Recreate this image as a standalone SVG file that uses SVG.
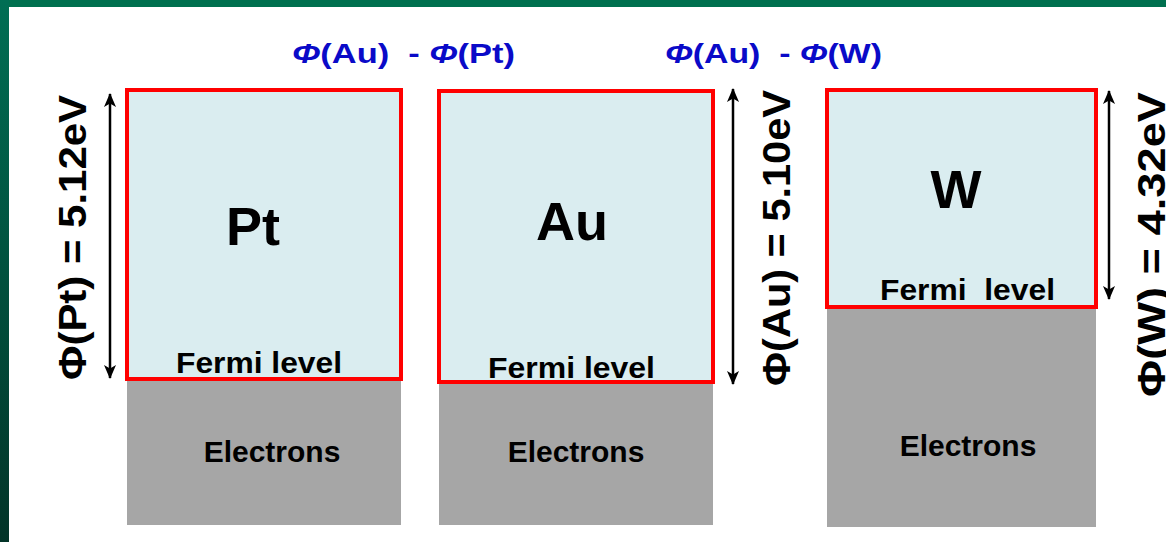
<svg xmlns="http://www.w3.org/2000/svg" width="1166" height="542" viewBox="0 0 1166 542">
<defs>
<linearGradient id="lb" x1="0" y1="0" x2="0" y2="1">
<stop offset="0" stop-color="#006e54"/>
<stop offset="1" stop-color="#023428"/>
</linearGradient>
<marker id="ah" viewBox="0 0 14 12" refX="13" refY="6" markerWidth="14" markerHeight="12" markerUnits="userSpaceOnUse" orient="auto-start-reverse">
<path d="M0,0 L14,6 L0,12 L3.5,6 Z" fill="#000"/>
</marker>
<style>
.vac{fill:#daedf0;stroke:#ff0000;stroke-width:4}
.el{fill:#a6a6a6}
.t{font-family:"Liberation Sans",Arial,sans-serif;font-weight:bold;fill:#000}
.big{font-size:54px}
.fl{font-size:29px}
.ec{font-size:30px}
.wf{font-size:39px}
.bl{font-family:"Liberation Sans",Arial,sans-serif;font-weight:bold;font-size:28px;fill:#0a0ac8}
.arr{stroke:#000;stroke-width:2.5;fill:none;marker-start:url(#ah);marker-end:url(#ah)}
</style>
</defs>
<rect width="1166" height="542" fill="#fff"/>
<rect x="0" y="0" width="1166" height="7" fill="#00704f"/>
<rect x="0" y="0" width="9" height="542" fill="url(#lb)"/>

<g id="node-pt">
<rect class="el" x="127" y="381" width="274" height="144"/>
<rect class="vac" x="127" y="90" width="274" height="289"/>
<text class="t big" x="253" y="245" text-anchor="middle">Pt</text>
<text class="t fl" x="176" y="373" textLength="166" lengthAdjust="spacingAndGlyphs">Fermi level</text>
<text class="t ec" x="272" y="462" text-anchor="middle">Electrons</text>
</g>

<g id="node-au">
<rect class="el" x="439" y="383" width="274" height="142"/>
<rect class="vac" x="439" y="91" width="274" height="291"/>
<text class="t big" x="572" y="240" text-anchor="middle">Au</text>
<text class="t fl" x="488" y="378" textLength="167" lengthAdjust="spacingAndGlyphs">Fermi level</text>
<text class="t ec" x="576" y="462" text-anchor="middle">Electrons</text>
</g>

<g id="node-w">
<rect class="el" x="827" y="308" width="269" height="219"/>
<rect class="vac" x="827" y="90" width="269" height="217"/>
<text class="t big" x="956" y="208" text-anchor="middle">W</text>
<text class="t fl" x="880" y="300" textLength="175" lengthAdjust="spacingAndGlyphs" xml:space="preserve">Fermi  level</text>
<text class="t ec" x="968" y="456" text-anchor="middle">Electrons</text>
</g>

<g id="connectors">
<line class="arr" x1="110" y1="94" x2="110" y2="378"/>
<line class="arr" x1="733" y1="89" x2="733" y2="384"/>
<line class="arr" x1="1109" y1="91" x2="1109" y2="299"/>
</g>

<g id="labels">
<text class="t wf" transform="translate(86,380) rotate(-90)" textLength="285" lengthAdjust="spacingAndGlyphs">Φ(Pt) = 5.12eV</text>
<text class="t wf" transform="translate(790,386) rotate(-90)" textLength="296" lengthAdjust="spacingAndGlyphs">Φ(Au) = 5.10eV</text>
<text class="t wf" transform="translate(1165,397) rotate(-90)" textLength="305" lengthAdjust="spacingAndGlyphs">Φ(W) = 4.32eV</text>
<text class="bl" x="292" y="63" textLength="223" lengthAdjust="spacingAndGlyphs" xml:space="preserve"><tspan font-style="italic">Φ</tspan>(Au)  - <tspan font-style="italic">Φ</tspan>(Pt)</text>
<text class="bl" x="665" y="63" textLength="217" lengthAdjust="spacingAndGlyphs" xml:space="preserve"><tspan font-style="italic">Φ</tspan>(Au)  - <tspan font-style="italic">Φ</tspan>(W)</text>
</g>
</svg>
